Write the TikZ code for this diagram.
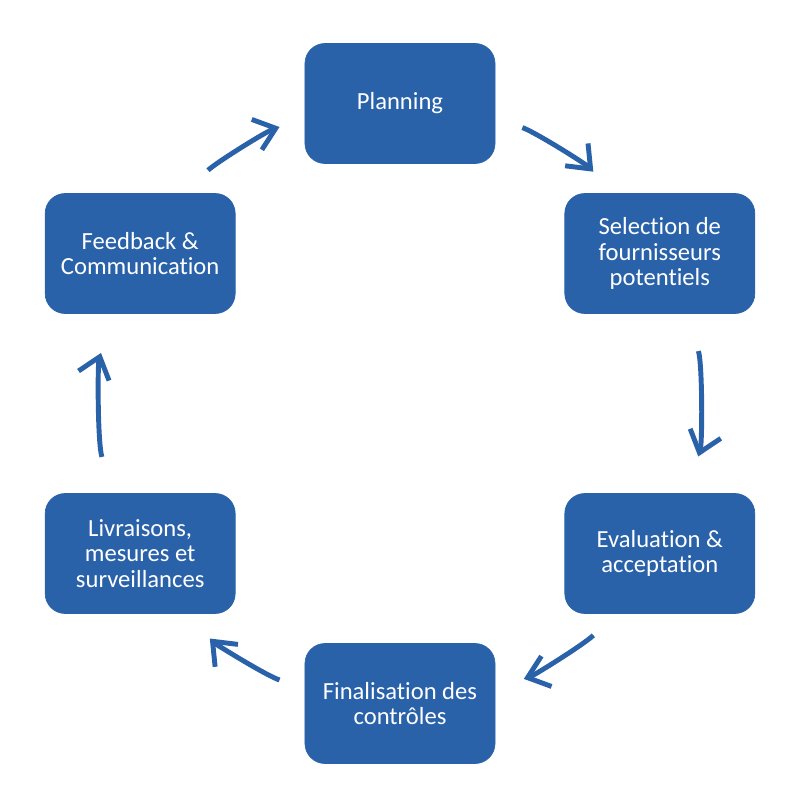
\documentclass[tikz,border=0pt]{standalone}
\usepackage{fontspec}
\setmainfont{Carlito}[Ligatures=NoCommon]
\usetikzlibrary{arrows.meta}
\definecolor{boxblue}{RGB}{42,98,170}
\begin{document}
\begin{tikzpicture}
	\tikzstyle{etape}=[draw=boxblue, fill=boxblue, rounded corners=0.4cm, minimum width=3.8cm, minimum height=2.4cm, align=center, text=white, font=\fontsize{14}{14.4}\selectfont]
	\tikzstyle{fleche}=[draw=boxblue, line width=2.8pt, looseness=0.75, -{Straight Barb[length=4mm,width=6.4mm]}]
	\useasboundingbox (-8,-7.95) rectangle (8,8.07);
	\path (90:6) node[etape] (plan) {Planning}
	      (30:6) node[etape] (sel) {Selection de\\fournisseurs\\potentiels}
	      (-30:6) node[etape] (eval) {Evaluation \&\\acceptation}
	      (-90:6) node[etape] (fin) {Finalisation des\\contrôles}
	      (-150:6) node[etape] (livr) {Livraisons,\\mesures et\\surveillances}
	      (150:6) node[etape] (feed) {Feedback \&\\Communication};
	\draw[fleche, shorten <=5.7mm, shorten >=6mm] (plan.-9) to[out=-18.5, in=134.4] (sel.127);
	\draw[fleche, shorten <=7.8mm, shorten >=7.7mm] (sel.-66) to[out=-72.5, in=72.5] (eval.66);
	\draw[fleche, shorten <=6mm, shorten >=6mm] (eval.233) to[out=-134.4, in=18.5] (fin.9);
	\draw[fleche, shorten <=5.3mm, shorten >=6.9mm] (fin.171) to[out=161.5, in=-45.6] (livr.307);
	\draw[fleche, shorten <=7.6mm, shorten >=8.2mm] (livr.114) to[out=107.5, in=-107.5] (feed.-114);
	\draw[fleche, shorten <=6.4mm, shorten >=5.3mm] (feed.53) to[out=45.6, in=-161.5] (plan.189);
\end{tikzpicture}
\end{document}
